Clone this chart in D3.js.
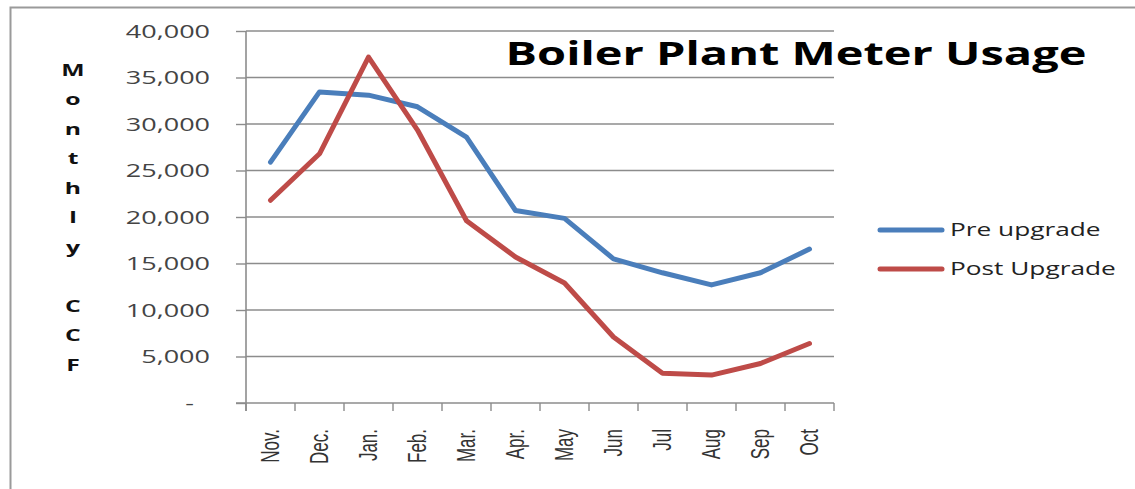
<!DOCTYPE html>
<html lang="en">
<head>
    <meta charset="UTF-8">
    <title>Boiler Plant Meter Usage</title>
    <style>
        body { margin: 0; background: #fff; }
        svg { display: block; }
    </style>
    <script src="https://cdn.jsdelivr.net/npm/d3@7"></script>
</head>
<body>
    <div id="chart"></div>
    <script>
        // Datos
        const months = ["Nov.", "Dec.", "Jan.", "Feb.", "Mar.", "Apr.", "May", "Jun", "Jul", "Aug", "Sep", "Oct"];
        const preUpgrade = [25900, 33450, 33100, 31850, 28600, 20700, 19850, 15500, 14000, 12700, 14000, 16550];
        const postUpgrade = [21800, 26800, 37200, 29350, 19600, 15700, 12900, 7100, 3200, 3000, 4250, 6400];
        const yTicks = [0, 5000, 10000, 15000, 20000, 25000, 30000, 35000, 40000];
        const seriesNames = ["Pre upgrade", "Post Upgrade"];
        const yTitle = "Monthly CCF";

        const width = 1135;
        const height = 489;
        const stretch = 1.5; // the picture is wider than tall
        const colors = ["#4a7ebb", "#be4b48"];

        const svg = d3.select("#chart")
            .append("svg")
            .attr("width", width)
            .attr("height", height);

        // marco (solo izquierda y arriba visibles)
        svg.append("path")
            .attr("d", `M10.5,${height} V7.5 H${width}`)
            .attr("fill", "none")
            .attr("stroke", "#9a9a9a")
            .attr("stroke-width", 2);

        const x = d3.scaleBand()
            .domain(months)
            .range([246, 834]);

        const y = d3.scaleLinear()
            .domain([0, 40000])
            .range([403, 31]);

        // lineas de la cuadricula
        svg.append("g")
            .selectAll("line")
            .data(yTicks.filter(d => d > 0))
            .enter()
            .append("line")
            .attr("x1", 246)
            .attr("x2", 834)
            .attr("y1", d => y(d))
            .attr("y2", d => y(d))
            .attr("stroke", "#8c8c8c")
            .attr("stroke-width", 1.4);

        // eje y
        const yAxis = svg.append("g")
            .attr("transform", "translate(246,0)")
            .call(d3.axisLeft(y).tickValues(yTicks).tickSize(10).tickPadding(0)
                .tickFormat(d => d === 0 ? "-" : d3.format(",")(d)));
        yAxis.select(".domain").attr("stroke", "#8c8c8c").attr("stroke-width", 1.6)
            .attr("d", "M0,31V411");
        yAxis.selectAll(".tick line").attr("stroke", "#8c8c8c").attr("stroke-width", 1.4);
        yAxis.selectAll(".tick text")
            .attr("font-family", "'Open Sans', sans-serif")
            .attr("font-size", 18)
            .attr("fill", "#444")
            .attr("x", d => (d === 0 ? -52 : -36) / stretch)
            .attr("dy", "0.35em")
            .attr("transform", `scale(${stretch},1)`);

        // eje x
        const xAxis = svg.append("g")
            .attr("transform", "translate(0,403)")
            .call(d3.axisBottom(x).tickSize(0).tickPadding(0));
        xAxis.select(".domain").attr("stroke", "#8c8c8c").attr("stroke-width", 1.6)
            .attr("d", "M236,0H834");
        xAxis.selectAll(".tick text")
            .attr("font-family", "'Liberation Sans', Arial, sans-serif")
            .attr("font-size", 17)
            .attr("fill", "#333")
            .attr("text-anchor", "end")
            .attr("x", 0)
            .attr("y", 0)
            .attr("dy", "0.35em")
            .attr("transform", `translate(0,26) scale(${stretch},1) rotate(-90)`);
        // marcas entre categorias
        xAxis.append("g")
            .selectAll("line")
            .data(months.concat(["end"]))
            .enter()
            .append("line")
            .attr("x1", (d, i) => 246 + i * x.bandwidth())
            .attr("x2", (d, i) => 246 + i * x.bandwidth())
            .attr("y1", 0)
            .attr("y2", 8)
            .attr("stroke", "#8c8c8c")
            .attr("stroke-width", 1.4);

        // lineas de datos
        const line = d3.line()
            .x((d, i) => x(months[i]) + x.bandwidth() / 2)
            .y(d => y(d));

        [preUpgrade, postUpgrade].forEach((values, k) => {
            svg.append("path")
                .datum(values)
                .attr("d", line)
                .attr("fill", "none")
                .attr("stroke", colors[k])
                .attr("stroke-width", 5)
                .attr("stroke-linejoin", "round")
                .attr("stroke-linecap", "round");
        });

        // titulo
        svg.append("text")
            .attr("transform", `translate(796,65) scale(${stretch},1)`)
            .attr("text-anchor", "middle")
            .attr("font-family", "'Open Sans', sans-serif")
            .attr("font-weight", "bold")
            .attr("font-size", 31.3)
            .attr("fill", "#000")
            .text("Boiler Plant Meter Usage");

        // titulo del eje y, una letra por linea
        svg.append("g")
            .selectAll("text")
            .data(yTitle.split(""))
            .enter()
            .append("text")
            .attr("transform", (d, i) => `translate(73,${70 + i * 29.5}) scale(${stretch},1)`)
            .attr("text-anchor", "middle")
            .attr("dy", "0.35em")
            .attr("font-family", "'Open Sans', sans-serif")
            .attr("font-weight", "bold")
            .attr("font-size", 16.5)
            .attr("fill", "#111")
            .text(d => d);

        // leyenda
        const legend = svg.append("g")
            .selectAll("g")
            .data(seriesNames)
            .enter()
            .append("g")
            .attr("transform", (d, i) => `translate(0,${230 + i * 39})`);
        legend.append("line")
            .attr("x1", 880)
            .attr("x2", 942)
            .attr("stroke", (d, i) => colors[i])
            .attr("stroke-width", 5)
            .attr("stroke-linecap", "round");
        legend.append("text")
            .attr("transform", `translate(950,0) scale(${stretch},1)`)
            .attr("dy", "0.35em")
            .attr("font-family", "'Open Sans', sans-serif")
            .attr("font-size", 17.5)
            .attr("fill", "#222")
            .text(d => d);
    </script>
</body>
</html>
